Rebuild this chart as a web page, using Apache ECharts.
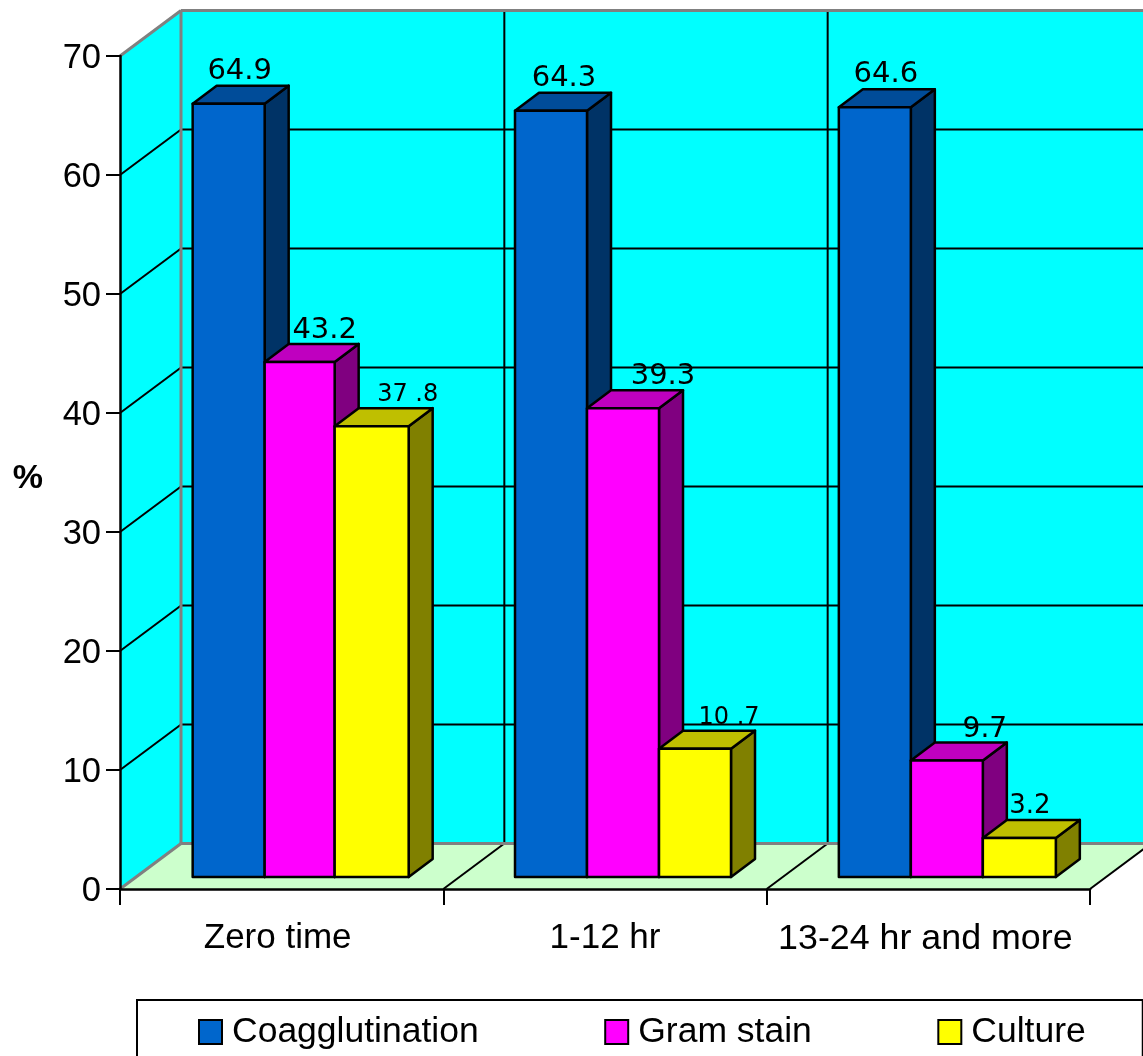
<!DOCTYPE html>
<html lang="en">
<head>
    <meta charset="UTF-8">
    <title>Coagglutination, Gram stain and Culture</title>
    <script src="https://cdn.jsdelivr.net/npm/echarts@6/dist/echarts.min.js"></script>
    <style>
        html, body { margin: 0; padding: 0; background: #fff; overflow: hidden; }
    </style>
</head>
<body>
<div id="main" style="width: 1143px; height: 1056px"></div>
</body>
<script>
    let categories = ['Zero time', '1-12 hr', '13-24 hr and more'];
    let coagglutination = [64.9, 64.3, 64.6];
    let gramStain = [43.2, 39.3, 9.7];
    let culture = [37.8, 10.7, 3.2];
    // the labels are typed this way in the picture, with the odd spaces
    let coagLabels = ['64.9', '64.3', '64.6'];
    let gramLabels = ['43.2', '39.3', '9.7'];
    let cultureLabels = ['37 .8', '10 .7', '3.2'];

    // depth of the room and of the bars
    let wallDx = 61, wallDy = -45.5;
    let barW = 72, barDx = 24, barDy = -18, barLift = 12;
    let groupShift = [1, 0, 0.5];
    // bar edges inside each group, the groups are not quite even in the picture
    let barEdges = [[0, 72, 142, 216], [0, 72, 144, 216], [0, 72, 144, 217]];

    let wall = function (params, api) {
        let cs = params.coordSys;
        let left = cs.x, right = cs.x + cs.width;
        let y0 = api.coord([0, 0])[1], y70 = api.coord([0, 70])[1];
        let line = function (x1, y1, x2, y2, color, width) {
            return {type: 'line', shape: {x1: x1, y1: y1, x2: x2, y2: y2},
                style: {stroke: color, lineWidth: width || 2}};
        };
        let kids = [
            {type: 'polygon', shape: {points: [[left + wallDx, y70 + wallDy], [right + wallDx, y70 + wallDy], [right + wallDx, y0 + wallDy], [left + wallDx, y0 + wallDy]]},
                style: {fill: '#00ffff'}},
            {type: 'polygon', shape: {points: [[left, y0], [left + wallDx, y0 + wallDy], [left + wallDx, y70 + wallDy], [left, y70]]},
                style: {fill: '#00ffff'}},
            {type: 'polygon', shape: {points: [[left, y0], [left + wallDx, y0 + wallDy], [right + wallDx, y0 + wallDy], [right, y0]]},
                style: {fill: '#ccffcc'}}
        ];
        // horizontal lines round the two walls
        for (let v = 10; v < 70; v += 10) {
            let y = api.coord([0, v])[1];
            kids.push(line(left, y, left + wallDx, y + wallDy, '#000'));
            kids.push(line(left + wallDx, y + wallDy, right + wallDx, y + wallDy, '#000'));
        }
        // dividers between the categories
        for (let i = 1; i <= categories.length; i++) {
            let x = left + cs.width * i / categories.length;
            kids.push(line(x, y0, x + wallDx, y0 + wallDy, '#000'));
            kids.push(line(x + wallDx, y0 + wallDy, x + wallDx, y70 + wallDy, '#000'));
        }
        kids.push(line(left, y70, left + wallDx, y70 + wallDy, '#808080', 3));
        kids.push(line(left + wallDx, y70 + wallDy, right + wallDx, y70 + wallDy, '#808080', 3));
        kids.push(line(left + wallDx, y70 + wallDy, left + wallDx, y0 + wallDy, '#808080', 3));
        kids.push(line(left + wallDx, y0 + wallDy, right + wallDx, y0 + wallDy, '#808080', 3));
        kids.push(line(left, y0, left + wallDx, y0 + wallDy, '#808080', 3));
        return {type: 'group', children: kids};
    };

    let bar3d = function (slot, colors, labels, labelShift, labelSize, labelRaise) {
        return function (params, api) {
            let i = api.value(0);
            let top = api.coord([i, api.value(1)]);
            let y0 = api.coord([i, 0])[1] - barLift;
            let base = top[0] - 1.5 * barW + 18 + groupShift[i];
            let x1 = base + barEdges[i][slot];
            let x2 = base + barEdges[i][slot + 1];
            let y1 = top[1] - barLift - 1;
            let edge = {stroke: '#000', lineWidth: 2.5, lineJoin: 'round'};
            return {type: 'group', children: [
                {type: 'polygon', shape: {points: [[x2, y1], [x2 + barDx, y1 + barDy], [x2 + barDx, y0 + barDy], [x2, y0]]},
                    style: Object.assign({fill: colors[2]}, edge)},
                {type: 'polygon', shape: {points: [[x1, y1], [x1 + barDx, y1 + barDy], [x2 + barDx, y1 + barDy], [x2, y1]]},
                    style: Object.assign({fill: colors[1]}, edge)},
                {type: 'rect', shape: {x: x1, y: y1, width: x2 - x1, height: y0 - y1},
                    style: Object.assign({fill: colors[0]}, edge)},
                {type: 'text', x: x1 + barW / 2 + labelShift[i], y: y1 + barDy + 2 - labelRaise,
                    style: {text: labels[i], fill: '#000', font: labelSize[i] + 'px "DejaVu Sans"',
                        textAlign: 'center', textVerticalAlign: 'bottom'}}
            ]};
        };
    };

    let series3d = function (name, values, slot, colors, labels, labelShift, labelSize, labelRaise) {
        return {
            name: name,
            type: 'custom',
            z: 3,
            renderItem: bar3d(slot, colors, labels, labelShift, labelSize, labelRaise),
            itemStyle: {color: colors[0], borderColor: '#000', borderWidth: 2},
            encode: {x: 0, y: 1},
            data: values.map(function (v, i) { return [i, v]; }),
            animation: false
        };
    };

    let myChart = echarts.init(document.getElementById('main'));
    let option = {
        animation: false,
        textStyle: {fontFamily: '"Liberation Sans"'},
        grid: {left: 120, top: 56, width: 970, height: 833},
        legend: {
            data: ['Coagglutination', 'Gram stain', 'Culture'],
            left: 137, top: 1000, width: 960,
            padding: [14, 57, 30, 61],
            itemGap: 125.5, itemWidth: 23, itemHeight: 24,
            icon: 'rect',
            borderColor: '#000', borderWidth: 2, backgroundColor: '#fff',
            selectedMode: false,
            textStyle: {fontSize: 35.5, color: '#000', fontFamily: '"Liberation Sans"', padding: [0, 0, 0, 5]}
        },
        xAxis: {
            type: 'category',
            data: [
                {value: categories[0], textStyle: {padding: [0, 8, 0, 0]}},
                {value: categories[1]},
                {value: categories[2], textStyle: {padding: [0, 6, 0, 0], fontSize: 35.8}}
            ],
            z: 10,
            axisLine: {lineStyle: {color: '#000', width: 2.5}},
            axisTick: {show: true, length: 16, lineStyle: {color: '#000', width: 2}},
            axisLabel: {fontSize: 35, color: '#000', margin: 32, interval: 0}
        },
        yAxis: {
            type: 'value',
            min: 0, max: 70, interval: 10,
            name: '%',
            nameLocation: 'middle',
            nameRotate: 0,
            nameGap: 77,
            nameTextStyle: {fontSize: 34, fontWeight: 'bold', color: '#000', verticalAlign: 'top', lineHeight: 13},
            z: 10,
            axisLine: {show: true, lineStyle: {color: '#000', width: 2.5}},
            axisTick: {show: true, length: 14, lineStyle: {color: '#000', width: 2}},
            // top + small lineHeight puts the digits a little under the tick
            axisLabel: {fontSize: 34.5, color: '#000', margin: 19, verticalAlign: 'top', lineHeight: 4},
            splitLine: {show: false}
        },
        series: [
            {type: 'custom', z: 1, silent: true, renderItem: wall, data: [[0, 0]], encode: {x: 0, y: 1}, animation: false},
            series3d('Coagglutination', coagglutination, 0, ['#0066cc', '#004c99', '#003366'], coagLabels, [11, 13, 11], [29, 29, 29], 2),
            series3d('Gram stain', gramStain, 1, ['#ff00ff', '#bf00bf', '#800080'], gramLabels, [24, 40, 38], [29, 29, 28], 1),
            series3d('Culture', culture, 2, ['#ffff00', '#bfbf00', '#808000'], cultureLabels, [37, 34, 11], [24, 24, 26], 3)
        ]
    };
    myChart.setOption(option);
</script>
</html>
